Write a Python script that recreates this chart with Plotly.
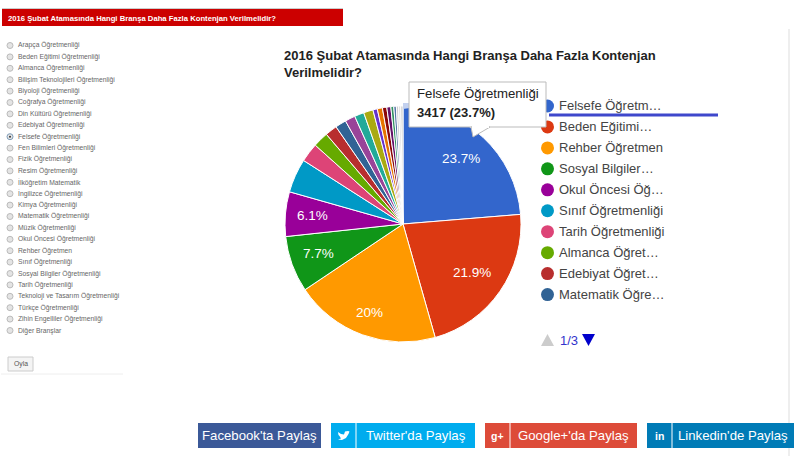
import plotly.graph_objects as go

# dilimler - saat yonunde, tepeden baslayarak
slice_values = [23.7, 21.9, 20.0, 7.7, 6.1, 4.65, 2.6, 2.1, 1.65, 1.5, 1.4, 1.3,
                1.3, 0.6, 0.7, 0.6, 0.55, 0.4, 0.35, 0.3, 0.3, 0.3]
slice_colors = ["#3366cc", "#dc3912", "#ff9900", "#109618", "#990099", "#0099c6",
                "#dd4477", "#66aa00", "#b82e2e", "#316395", "#994499", "#22aa99",
                "#aaaa11", "#6633cc", "#e67300", "#8b0707", "#651067", "#329262",
                "#5574a6", "#cccccc", "#dddddd", "#cccccc"]
slice_text = ["23.7%", "21.9%", "20%", "7.7%", "6.1%"]
legend_labels = ["Felsefe Öğretm…", "Beden Eğitimi…", "Rehber Öğretmen", "Sosyal Bilgiler…",
                 "Okul Öncesi Öğ…", "Sınıf Öğretmenliği", "Tarih Öğretmenliği",
                 "Almanca Öğret…", "Edebiyat Öğret…", "Matematik Öğre…"]
radio_labels = ["Arapça Öğretmenliği", "Beden Eğitimi Öğretmenliği", "Almanca Öğretmenliği",
                "Bilişim Teknolojileri Öğretmenliği", "Biyoloji Öğretmenliği", "Coğrafya Öğretmenliği",
                "Din Kültürü Öğretmenliği", "Edebiyat Öğretmenliği", "Felsefe Öğretmenliği",
                "Fen Bilimleri Öğretmenliği", "Fizik Öğretmenliği", "Resim Öğretmenliği",
                "İlköğretim Matematik", "İngilizce Öğretmenliği", "Kimya Öğretmenliği",
                "Matematik Öğretmenliği", "Müzik Öğretmenliği", "Okul Öncesi Öğretmenliği",
                "Rehber Öğretmen", "Sınıf Öğretmenliği", "Sosyal Bilgiler Öğretmenliği",
                "Tarih Öğretmenliği", "Teknoloji ve Tasarım Öğretmenliği", "Türkçe Öğretmenliği",
                "Zihin Engelliler Öğretmenliği", "Diğer Branşlar"]
buttons = [("Facebook'ta Paylaş", 198, 321, "#3b5998", None),
           ("Twitter'da Paylaş", 331, 475, "#00acee", "bird"),
           ("Google+'da Paylaş", 485, 637, "#dd4b39", "g+"),
           ("Linkedin'de Paylaş", 647, 794, "#007bb6", "in")]

W, H = 799, 456
FONT = "Arial, Liberation Sans, sans-serif"
fig = go.Figure()

cx, cy, r = 403, 224, 118
fig.add_trace(go.Pie(values=slice_values, sort=False, direction="clockwise", rotation=0,
                     marker=dict(colors=slice_colors, line=dict(color="white", width=1)),
                     textinfo="none", automargin=False, showlegend=False, hoverinfo="skip",
                     domain=dict(x=[(cx - r) / W, (cx + r) / W], y=[1 - (cy + r) / H, 1 - (cy - r) / H])))

shapes = []
annots = []


def px(x):
    return x / W


def py(y):
    return 1 - y / H


def text(x, y, s, size=11, color="#222222", anchor="left", weight=None):
    if weight:
        s = "<b>" + s + "</b>"
    if anchor == "left":
        x -= 2  # annotation kendi padding'ini ekliyor
    annots.append(dict(x=px(x), y=py(y), xref="paper", yref="paper", text=s, showarrow=False,
                       xanchor=anchor, yanchor="middle", font=dict(family=FONT, size=size, color=color)))


def box(x0, y0, x1, y1, fill, line=None, kind="rect", width=1):
    shapes.append(dict(type=kind, xref="paper", yref="paper", x0=px(x0), y0=py(y0), x1=px(x1), y1=py(y1),
                       fillcolor=fill, layer="above", line=dict(color=line or fill, width=width if line else 0)))


def poly(points, fill, line=None):
    path = "M " + " L ".join(f"{px(a):.5f} {py(b):.5f}" for a, b in points) + " Z"
    shapes.append(dict(type="path", xref="paper", yref="paper", path=path, fillcolor=fill, layer="above",
                       line=dict(color=line or fill, width=1 if line else 0)))


def hline(x0, x1, y, color, width=1):
    shapes.append(dict(type="line", xref="paper", yref="paper", x0=px(x0), x1=px(x1), y0=py(y), y1=py(y),
                       layer="above", line=dict(color=color, width=width)))


def vline(x, y0, y1, color, width=1):
    shapes.append(dict(type="line", xref="paper", yref="paper", x0=px(x), x1=px(x), y0=py(y0), y1=py(y1),
                       layer="above", line=dict(color=color, width=width)))


# dilim yuzdeleri
label_pos = [(461, 159), (472, 272), (369, 312), (318, 254), (312, 216)]
for (lx, ly), s in zip(label_pos, slice_text):
    text(lx, ly, s, 13.5, "white", "center")

# ust kirmizi baslik
box(2, 8, 343, 9, "#cccccc")
box(2, 9, 343, 26, "#cc0000")
text(8, 18, "2016 Şubat Atamasında Hangi Branşa Daha Fazla Kontenjan Verilmelidir?", 7.7, "white", weight=True)

# sol anket listesi
for i, label in enumerate(radio_labels):
    y = 45.5 + i * 11.4
    selected = label == "Felsefe Öğretmenliği"
    box(7, y - 3, 13, y + 3, "#e4e4e4", "#7f9db9" if selected else "#bbbbbb", "circle")
    if selected:
        box(9, y - 1, 11, y + 1, "#333333", None, "circle")
    text(18, y, label, 6.75, "#666666")
hline(1, 123, 374, "#eeeeee")
box(8, 357, 33, 371, "#f4f4f4", "#cccccc")
text(20.5, 364, "Oyla", 6.8, "#555555", "center")

# grafik basligi
text(284, 56, "2016 Şubat Atamasında Hangi Branşa Daha Fazla Kontenjan", 13, "#222222", weight=True)
text(284, 72, "Verilmelidir?", 13, "#222222", weight=True)

# legend
for i, label in enumerate(legend_labels):
    y = 106 + i * 20.95
    box(541, y - 6.5, 554, y + 6.5, slice_colors[i], None, "circle")
    text(559, y, label, 13, "#444444")
hline(549, 718, 115, "#3f48cc", 3)

# sayfalama
poly([(541, 346), (554, 346), (547.5, 334)], "#cccccc")
text(560, 340, "1/3", 13, "#3333cc")
poly([(582, 334), (595, 334), (588.5, 346)], "#0000cc")

# secili dilim halkasi + tooltip
poly([(403, 103), (410, 103), (410, 108), (403, 109)], "#c3d1ef")
box(409, 82, 546, 127, "white", "#bbbbbb")
poly([(471, 127), (473, 137), (490, 127)], "white", "#bbbbbb")
box(472, 125, 489, 128, "white")
text(417, 94, "Felsefe Öğretmenliği", 13.2, "#222222")
text(417, 112, "3417 (23.7%)", 13, "#222222", weight=True)

# paylas butonlari
vline(789, 29, 456, "#dddddd")
for label, x0, x1, color, icon in buttons:
    box(x0, 423, x1, 448, color)
    if icon:
        vline(x0 + 25, 423, 448, "white")
        if icon == "bird":
            poly([(338, 432), (341, 434), (344, 434.5), (345, 431.5), (348, 431), (349.5, 431.5),
                  (348.5, 434), (346, 438), (342, 440), (338, 439.5), (341, 438.5), (339.5, 436), (338.5, 435)],
                 "white")
        else:
            text(x0 + 12.5, 435.5, icon, 10.5, "white", "center", weight=True)
        text((x0 + 25 + x1) / 2, 435.5, label, 13.2, "white", "center")
    else:
        text((x0 + x1) / 2, 435.5, label, 13.2, "white", "center")

fig.update_layout(width=W, height=H, margin=dict(l=0, r=0, t=0, b=0), autosize=False,
                  paper_bgcolor="white", shapes=shapes, annotations=annots)
fig.write_html("out.html", config=dict(displayModeBar=False),
               post_script="document.body.style.margin='0';document.body.style.overflow='hidden';")
